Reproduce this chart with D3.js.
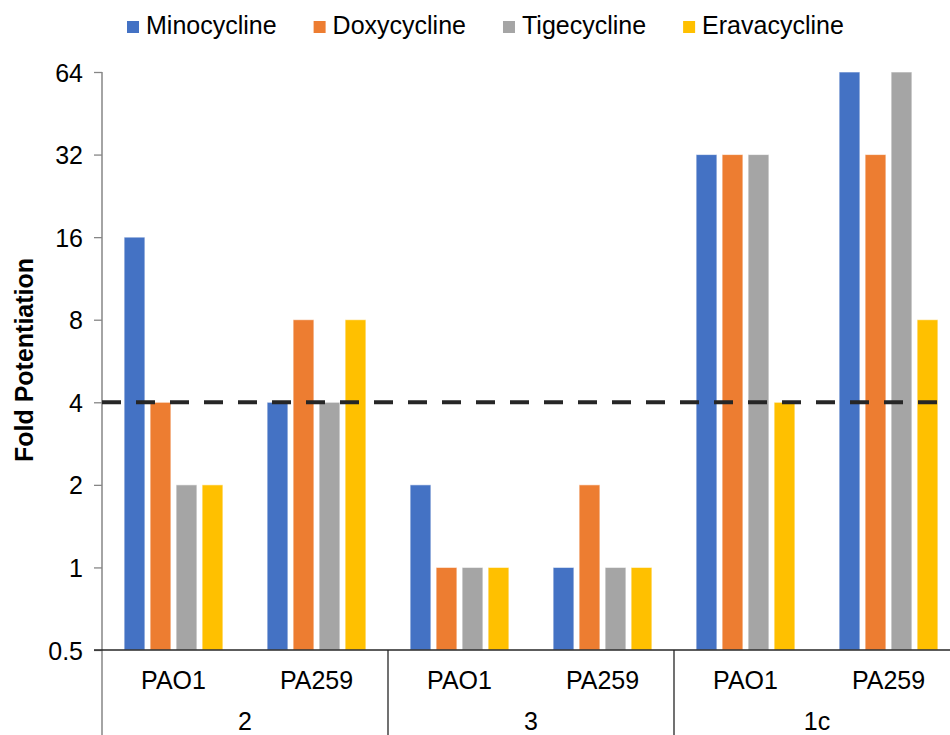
<!DOCTYPE html>
<html>
<head>
<meta charset="utf-8">
<script src="https://cdn.jsdelivr.net/npm/d3@7"></script>
<style>
  html, body { margin: 0; padding: 0; background: #fff; }
  svg { display: block; font-family: "Liberation Sans", Arial, Helvetica, sans-serif; }
</style>
</head>
<body>
<svg id="chart" width="950" height="735"></svg>
<script>
// Compounds on the outer axis, strains inside each compound
const compounds = ["2", "3", "1c"];
const strains = ["PAO1", "PA259"];
const seriesNames = ["Minocycline", "Doxycycline", "Tigecycline", "Eravacycline"];
const seriesColors = ["#4472C4", "#ED7D31", "#A5A5A5", "#FFC000"];

// Fold potentiation per (compound, strain): 2/PAO1, 2/PA259, 3/PAO1, 3/PA259, 1c/PAO1, 1c/PA259
const minocycline  = [16, 4, 2, 1, 32, 64];
const doxycycline  = [4, 8, 1, 2, 32, 32];
const tigecycline  = [2, 4, 1, 1, 32, 64];
const eravacycline = [2, 8, 1, 1, 4, 8];

const yTicks = [0.5, 1, 2, 4, 8, 16, 32, 64];
const threshold = 4;

const seriesValues = [minocycline, doxycycline, tigecycline, eravacycline];
const FONT = "25px";

// Flatten into (compound, strain) slots
const slots = [];
compounds.forEach(c => strains.forEach(s => slots.push({ compound: c, strain: s, key: c + "|" + s })));

const svg = d3.select("#chart");
const plotLeft = 102, plotRight = 960, plotTop = 72, plotBottom = 650;

const y = d3.scaleLog().base(2).domain([0.5, 64]).range([plotBottom, plotTop]);

const xSlot = d3.scaleBand().domain(slots.map(d => d.key)).range([plotLeft, plotRight]).padding(0);
const xSeries = d3.scaleBand().domain(seriesNames).range([0, xSlot.bandwidth()])
  .paddingInner(0.2).paddingOuter(0.85);

// Bars
const barData = [];
slots.forEach((slot, i) => {
  seriesNames.forEach((name, j) => {
    barData.push({ slot: slot.key, series: name, color: seriesColors[j], value: seriesValues[j][i] });
  });
});

svg.append("g").selectAll("rect").data(barData).join("rect")
  .attr("x", d => xSlot(d.slot) + xSeries(d.series))
  .attr("width", xSeries.bandwidth())
  .attr("y", d => y(d.value))
  .attr("height", d => y(0.5) - y(d.value))
  .attr("fill", d => d.color)
  .attr("stroke", "#ffffff")
  .attr("stroke-opacity", 0.6)
  .attr("stroke-width", 1);

// Y axis
const yAxis = d3.axisLeft(y).tickValues(yTicks).tickSize(8).tickPadding(11)
  .tickFormat(d => String(d));
const gy = svg.append("g").attr("transform", `translate(${plotLeft},0)`).call(yAxis);
gy.select(".domain").remove();
gy.selectAll(".tick line").attr("stroke", "#868686").attr("stroke-width", 1.3);
gy.selectAll(".tick text")
  .attr("fill", "#000")
  .style("font-size", FONT)
  .attr("dy", "0.36em");

// Vertical axis line continuing down as the first category divider
svg.append("line")
  .attr("x1", plotLeft).attr("x2", plotLeft)
  .attr("y1", plotTop).attr("y2", 735)
  .attr("stroke", "#868686").attr("stroke-width", 1.5);

// Baseline
svg.append("line")
  .attr("x1", plotLeft - 8).attr("x2", plotRight)
  .attr("y1", plotBottom).attr("y2", plotBottom)
  .attr("stroke", "#262626").attr("stroke-width", 1.3);

// Compound dividers
compounds.forEach((c, i) => {
  if (i === 0) return;
  const x = xSlot(c + "|" + strains[0]);
  svg.append("line")
    .attr("x1", x).attr("x2", x)
    .attr("y1", plotBottom).attr("y2", 735)
    .attr("stroke", "#262626").attr("stroke-width", 1.3);
});

// Strain labels
svg.append("g").selectAll("text").data(slots).join("text")
  .attr("x", d => xSlot(d.key) + xSlot.bandwidth() / 2)
  .attr("y", 689)
  .attr("text-anchor", "middle")
  .style("font-size", FONT)
  .attr("fill", "#000")
  .text(d => d.strain);

// Compound labels
svg.append("g").selectAll("text").data(compounds).join("text")
  .attr("x", c => xSlot(c + "|" + strains[0]) + xSlot.bandwidth() * strains.length / 2)
  .attr("y", 730)
  .attr("text-anchor", "middle")
  .style("font-size", FONT)
  .attr("fill", "#000")
  .text(c => c);

// Threshold line
svg.append("line")
  .attr("x1", plotLeft).attr("x2", 950)
  .attr("y1", y(threshold)).attr("y2", y(threshold))
  .attr("stroke", "#262626").attr("stroke-width", 4)
  .attr("stroke-dasharray", "19,15");

// Y axis title
svg.append("text")
  .attr("transform", `translate(33,360) rotate(-90)`)
  .attr("text-anchor", "middle")
  .style("font-size", FONT)
  .style("font-weight", "bold")
  .attr("fill", "#000")
  .text("Fold Potentiation");

// Legend
const legend = svg.append("g");
let lx = 127;
seriesNames.forEach((name, j) => {
  legend.append("rect")
    .attr("x", lx).attr("y", 21).attr("width", 12).attr("height", 12)
    .attr("fill", seriesColors[j]);
  const t = legend.append("text")
    .attr("x", lx + 19).attr("y", 34)
    .style("font-size", FONT)
    .attr("fill", "#000")
    .text(name);
  lx += 19 + t.node().getComputedTextLength() + 37;
});
</script>
</body>
</html>
